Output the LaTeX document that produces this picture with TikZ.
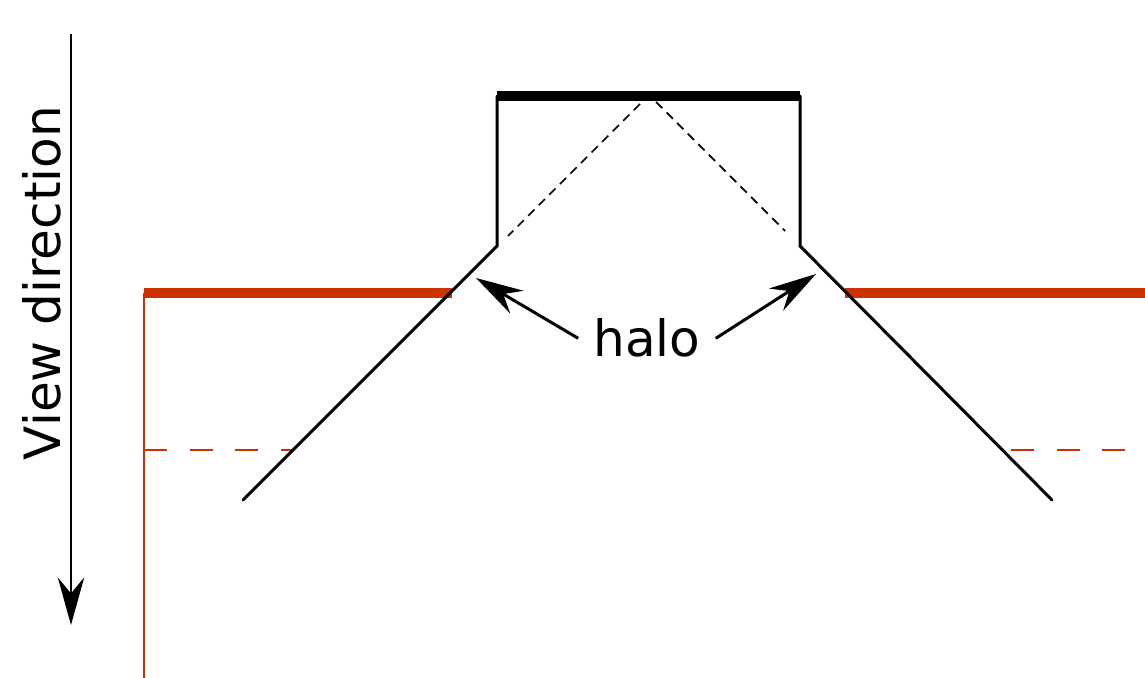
\documentclass[tikz,border=0pt]{standalone}
\usepackage{fontspec}
\setmainfont{DejaVu Sans}
\usetikzlibrary{arrows.meta}
\definecolor{halored}{RGB}{204,51,0}
\tikzset{
  wall/.style={line width=1.7pt,line cap=round},
  rayline/.style={line width=1pt,dash pattern=on 5pt off 3.5pt},
  bigtip/.style={-{Stealth[length=27pt,width=15pt,inset=9pt]},line width=1.7pt},
  label text/.style={font=\fontsize{28.5}{34}\selectfont}
}
\begin{document}
\begin{tikzpicture}[x=0.02cm,y=-0.02cm]
\path[use as bounding box] (0,0) rectangle (1145,678);
\draw[halored,line width=1.7pt] (144,293) -- (144,678);
\draw[halored,line width=5.5pt] (144,293) -- (452,293);
\draw[halored,line width=5.5pt] (845,293) -- (1145,293);
\draw[halored,line width=1.5pt,dash pattern=on 13pt off 13pt] (144,450) -- (293,450);
\draw[halored,line width=1.5pt,dash pattern=on 13pt off 13pt] (1011,450) -- (1130,450);
\draw[line width=6pt] (497,96) -- (800,96);
\draw[wall] (497,96) -- (497,246) -- (243,500);
\draw[wall] (800,96) -- (800,246) -- (1052,500);
\draw[rayline] (640,104) -- (508,236);
\draw[rayline] (656,102) -- (785,231);
\draw[bigtip] (71,34) -- (71,625);
\node[label text,rotate=90] (view) at (42,283) {View direction};
\node[label text,anchor=base,inner xsep=8.5pt] (halo) at (647,357) {halo};
\draw[bigtip] (halo.west) -- (476,278);
\draw[bigtip] (halo.east) -- (816,274);
\end{tikzpicture}
\end{document}
